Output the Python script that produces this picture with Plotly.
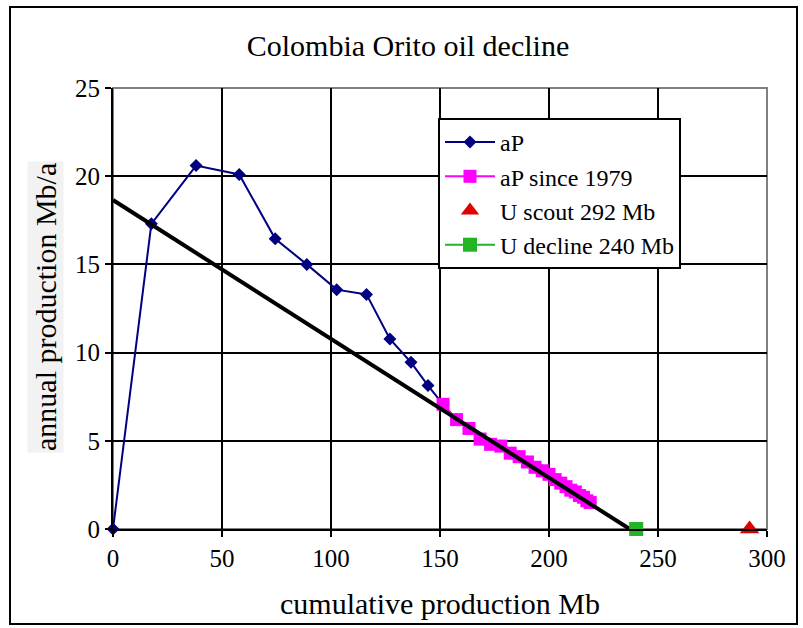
import plotly.graph_objects as go

# ---- data ----
ap_x = [0, 17.6, 38.1, 57.9, 74.4, 88.9, 102.6, 116.3, 127.0, 136.7, 144.5]
ap_y = [0, 17.3, 20.6, 20.1, 16.45, 15.0, 13.57, 13.3, 10.77, 9.45, 8.13]
since_x = [151.4, 157.6, 163.3, 168.4, 173.2, 177.9, 182.2, 186.3, 190.1, 193.6, 196.9,
           200.0, 202.8, 205.4, 207.8, 210.0, 212.1, 214.0, 215.8, 217.4, 218.9]
since_y = [7.07, 6.2, 5.7, 5.1, 4.8, 4.7, 4.3, 4.1, 3.8, 3.5, 3.3,
           3.1, 2.8, 2.6, 2.4, 2.2, 2.1, 1.9, 1.8, 1.6, 1.5]
scout_x = [292]
scout_y = [0]
decl_x = [240]
decl_y = [0]
fit_x = [0, 237]
fit_y = [18.65, 0]
x_ticks = [0, 50, 100, 150, 200, 250, 300]
y_ticks = [0, 5, 10, 15, 20, 25]

FONT = "Liberation Serif"

fig = go.Figure()
fig.add_trace(go.Scatter(x=ap_x + since_x, y=ap_y + since_y, mode="lines+markers", name="aP",
                         line=dict(color="#000080", width=2),
                         marker=dict(symbol="diamond", size=10, color="#000080"),
                         cliponaxis=False))
fig.add_trace(go.Scatter(x=since_x, y=since_y, mode="lines+markers", name="aP since 1979",
                         line=dict(color="#ff00ff", width=2),
                         marker=dict(symbol="square", size=13, color="#ff00ff"),
                         cliponaxis=False))
fig.add_trace(go.Scatter(x=fit_x, y=fit_y, mode="lines", showlegend=False,
                         line=dict(color="black", width=4), cliponaxis=False))
fig.add_trace(go.Scatter(x=scout_x, y=scout_y, mode="markers", name="U scout 292 Mb",
                         marker=dict(symbol="triangle-up", size=17, color="#e00000"),
                         cliponaxis=False))
fig.add_trace(go.Scatter(x=decl_x, y=decl_y, mode="lines+markers", name="U decline 240 Mb",
                         line=dict(color="#22b422", width=2),
                         marker=dict(symbol="square", size=14, color="#22b422"),
                         cliponaxis=False))

L, R, T, B = 113, 36, 88, 99
W, H = 803, 628
pw, ph = W - L - R, H - T - B

def px(xp):
    return (xp - L) / pw

def py(yp):
    return (H - B - yp) / ph

axis_common = dict(showgrid=True, gridcolor="black", gridwidth=2,
                   showline=True, linecolor="black", linewidth=2, ticks="outside", ticklen=6,
                   tickcolor="black", tickwidth=2, zeroline=False, fixedrange=True,
                   tickfont=dict(family=FONT, size=25, color="black"))

fig.update_layout(
    width=W, height=H,
    margin=dict(l=L, r=R, t=T, b=B),
    paper_bgcolor="white", plot_bgcolor="white",
    font=dict(family=FONT, size=25, color="black"),
    title=dict(text="Colombia Orito oil decline", font=dict(family=FONT, size=30, color="black"),
               x=px(408), xref="paper", xanchor="center", y=1 - 45 / H, yanchor="middle"),
    showlegend=True,
    legend=dict(x=px(438), y=py(118), xanchor="left", yanchor="top",
                bgcolor="white", bordercolor="black", borderwidth=2,
                font=dict(family=FONT, size=24, color="black"), tracegroupgap=0,
                itemwidth=50),
    xaxis=dict(range=[0, 300], tickvals=x_ticks, **axis_common),
    yaxis=dict(range=[0, 25], tickvals=y_ticks, **axis_common),
    shapes=[
        dict(type="rect", xref="paper", yref="paper", x0=0, x1=1, y0=0, y1=1,
             line=dict(color="#808080", width=2), layer="below"),
        dict(type="rect", xref="paper", yref="paper", x0=px(10), x1=px(797), y0=py(624), y1=py(7),
             line=dict(color="black", width=2)),
    ],
    annotations=[
        dict(text="cumulative production Mb", xref="paper", yref="paper", x=px(440), y=py(603),
             xanchor="center", yanchor="middle", showarrow=False,
             font=dict(family=FONT, size=30, color="black")),
        dict(text="annual production Mb/a", xref="paper", yref="paper", x=px(45), y=py(307),
             xanchor="center", yanchor="middle", showarrow=False, textangle=-90,
             bgcolor="#f2f2f2", font=dict(family=FONT, size=30, color="black")),
    ],
)

fig.write_html("out.html", config={"displayModeBar": False},
               post_script="document.body.style.margin='0';document.body.style.padding='0';")
